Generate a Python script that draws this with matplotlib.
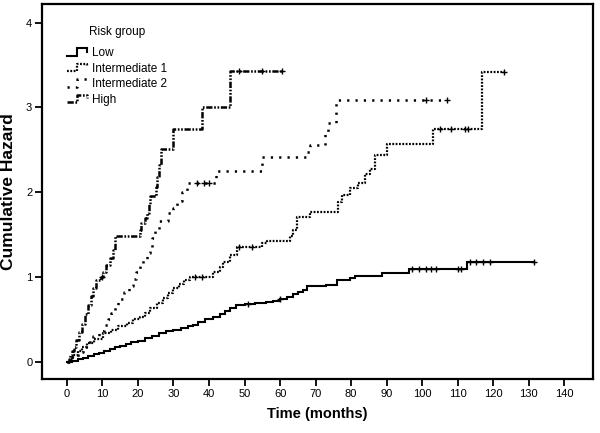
import numpy as np
import matplotlib
matplotlib.use('Agg')
import matplotlib.pyplot as plt
from matplotlib.legend_handler import HandlerBase
from matplotlib.lines import Line2D

plt.rcParams['font.family'] = ['Liberation Sans', 'DejaVu Sans']
plt.rcParams['lines.scale_dashes'] = False

# step times (months) and cumulative hazard after each step
low_t = [0, 1.5, 3, 4.5, 6, 7.5, 9, 10.5, 12, 13.5, 15, 16.5, 18, 20, 22, 24, 26, 28,
         30, 32, 34, 35.5, 37, 39, 41, 43, 44.5, 46, 47.5, 50, 53, 56, 58, 60, 62,
         63.5, 65, 66.5, 67.5, 73, 75.9, 79.6, 81, 88.8, 96.4, 112.5]
low_h = [0, 0.01, 0.03, 0.05, 0.07, 0.09, 0.11, 0.13, 0.15, 0.17, 0.19, 0.21, 0.23,
         0.25, 0.28, 0.31, 0.34, 0.36, 0.38, 0.40, 0.42, 0.44, 0.47, 0.50, 0.53, 0.57,
         0.60, 0.63, 0.67, 0.68, 0.69, 0.71, 0.72, 0.74, 0.77, 0.80, 0.82, 0.85, 0.89,
         0.91, 0.96, 0.99, 1.01, 1.05, 1.09, 1.18]
low_cens = [51, 60, 97, 99, 101, 102.5, 104, 110, 111, 113.5, 115, 117, 119, 131.5]

int1_t = [0, 1, 1.7, 3, 4.3, 5.6, 7.5, 10.1, 12.5, 14.5, 16.9, 18.5, 20.5, 22, 23.5,
          25.3, 27, 28.5, 29.8, 31.5, 33, 34.6, 41, 43, 43.9, 45.8, 47.8, 54.8, 56.2,
          62.7, 63.5, 64.7, 68.3, 76.2, 77.3, 79.6, 81.8, 83.8, 85.2, 86.6, 90.2,
          102.9, 116.7]
int1_h = [0, 0.04, 0.08, 0.13, 0.18, 0.22, 0.27, 0.34, 0.38, 0.42, 0.46, 0.50, 0.53,
          0.58, 0.63, 0.69, 0.75, 0.81, 0.87, 0.92, 0.96, 1.00, 1.06, 1.12, 1.18, 1.26,
          1.35, 1.40, 1.43, 1.48, 1.56, 1.71, 1.77, 1.88, 1.97, 2.05, 2.11, 2.21, 2.27,
          2.44, 2.57, 2.74, 3.42]
int1_cens = [36, 38, 48.5, 52, 105, 108, 112, 113, 123]

int2_t = [0, 1.5, 3, 4.5, 6, 7.3, 9, 10.5, 11.5, 12.5, 13.5, 14.5, 16, 17.5, 18.5,
          19.5, 20.5, 21.5, 22.5, 23.3, 24, 24.8, 25.8, 28.5, 30, 31, 32.5, 33.8, 42,
          55, 67.7, 68.3, 72.5, 73.5, 75.8]
int2_h = [0, 0.06, 0.12, 0.18, 0.24, 0.30, 0.37, 0.44, 0.50, 0.58, 0.66, 0.74, 0.82,
          0.90, 0.98, 1.06, 1.13, 1.20, 1.28, 1.36, 1.46, 1.56, 1.66, 1.76, 1.82, 1.90,
          2.00, 2.11, 2.25, 2.41, 2.47, 2.56, 2.70, 2.82, 3.09]
int2_cens = [36.5, 38.5, 40, 101, 107]

high_t = [0, 0.5, 1, 1.5, 2, 2.7, 3.5, 4.3, 5.1, 6, 6.8, 7.3, 8.3, 9.5, 10.2, 11, 12,
          12.9, 13.5, 20.5, 21, 22, 22.5, 23, 23.5, 25, 25.3, 25.9, 26.6, 29.8, 38, 46]
high_h = [0, 0.04, 0.08, 0.13, 0.17, 0.26, 0.35, 0.45, 0.56, 0.67, 0.78, 0.87, 0.96,
          1.00, 1.06, 1.14, 1.22, 1.32, 1.48, 1.56, 1.64, 1.70, 1.76, 1.86, 1.96, 2.06,
          2.18, 2.32, 2.51, 2.74, 3.01, 3.43]
high_cens = [9.8, 48.5, 55, 60.5]

groups = ['Low', 'Intermediate 1', 'Intermediate 2', 'High']
styles = {
    'Low': dict(linestyle='-', linewidth=1.5),
    'Intermediate 1': dict(linestyle=(0, (1.3, 1.1)), linewidth=1.6),
    'Intermediate 2': dict(linestyle=(0, (1.6, 4.4)), linewidth=1.8),
    'High': dict(linestyle=(0, (4.5, 1.2, 1.2, 1.2, 1.2, 1.2)), linewidth=1.8),
}


class StepHandler(HandlerBase):
    # little step-shaped legend key, like the SPSS one
    def create_artists(self, legend, orig_handle, xdescent, ydescent, width, height,
                       fontsize, trans):
        xs = np.array([0, 0.45, 0.45, 0.95, 0.95]) * width - xdescent
        ys = np.array([0.15, 0.15, 0.9, 0.9, 0.55]) * height - ydescent
        line = Line2D(xs, ys)
        line.update_from(orig_handle)
        line.set_data(xs, ys)
        line.set_marker('None')
        line.set_transform(trans)
        return [line]


fig = plt.figure(figsize=(6.0, 4.33), dpi=100)
ax = fig.add_axes([0.07, 0.125, 0.918, 0.866])

data = [(low_t, low_h, low_cens), (int1_t, int1_h, int1_cens),
        (int2_t, int2_h, int2_cens), (high_t, high_h, high_cens)]
handles = []
for name, (t, h, cens) in zip(groups, data):
    t = np.asarray(t, float)
    h = np.asarray(h, float)
    end = max(cens[-1], t[-1])
    tt = np.append(t, end)
    hh = np.append(h, h[-1])
    ln, = ax.step(tt, hh, where='post', color='black', solid_joinstyle='miter', **styles[name])
    idx = np.searchsorted(t, cens, side='right') - 1
    ax.plot(cens, h[idx], linestyle='none', marker='+', markersize=5,
            markeredgewidth=1.0, color='black')
    handles.append(ln)

ax.set_xlim(-7, 148)
ax.set_ylim(-0.2, 4.22)
ax.set_xticks(np.arange(0, 141, 10))
ax.set_yticks([0, 1, 2, 3, 4])
ax.tick_params(direction='out', length=5, width=1.3, labelsize=8, pad=2, colors='black')
for s in ax.spines.values():
    s.set_linewidth(1.6)

ax.set_xlabel('Time (months)', fontsize=10.5, fontweight='bold', labelpad=6)
ax.set_ylabel('Cumulative Hazard', fontsize=12.5, fontweight='bold', labelpad=7)

leg = ax.legend(handles, groups, title='Risk group', loc='upper left',
                bbox_to_anchor=(0.035, 0.958), frameon=False, fontsize=8.5,
                title_fontsize=8.5, handlelength=1.8, handleheight=0.9,
                handletextpad=0.3, labelspacing=0.3, borderpad=0,
                handler_map={Line2D: StepHandler()})
leg._legend_box.sep = 7

fig.savefig('out.png', dpi=100)
